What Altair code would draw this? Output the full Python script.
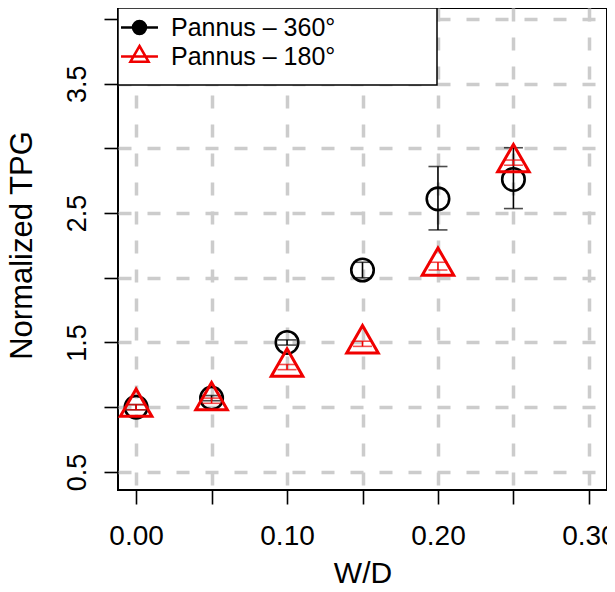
import altair as alt
import pandas as pd

# ---- data ----
wd = [0.00, 0.05, 0.10, 0.15, 0.20, 0.25]
tpg_360 = [1.00, 1.07, 1.50, 2.06, 2.61, 2.76]
lo_360 = [0.98, 1.05, 1.48, 2.00, 2.37, 2.535]
hi_360 = [1.02, 1.09, 1.52, 2.12, 2.86, 3.005]
tpg_180 = [1.00, 1.05, 1.31, 1.49, 2.09, 2.89]
lo_180 = [0.98, 1.03, 1.29, 1.47, 2.06, 2.87]
hi_180 = [1.02, 1.07, 1.33, 1.51, 2.12, 2.91]
series = ["Pannus \u2013 360\u00b0", "Pannus \u2013 180\u00b0"]
x_ticks = [0.0, 0.05, 0.10, 0.15, 0.20, 0.25, 0.30]
y_ticks = [0.5, 1.0, 1.5, 2.0, 2.5, 3.0, 3.5, 4.0]

FONT = "Liberation Sans"
RED = "#f00000"
X_DOMAIN = [-0.012, 0.312]
Y_DOMAIN = [0.36, 4.085]

df360 = pd.DataFrame({"wd": wd, "tpg": tpg_360, "lo": lo_360, "hi": hi_360})
df180 = pd.DataFrame({"wd": wd, "tpg": tpg_180, "lo": lo_180, "hi": hi_180})
dfleg = pd.DataFrame({"series": series})

xscale = alt.Scale(domain=X_DOMAIN, nice=False, zero=False)
yscale = alt.Scale(domain=Y_DOMAIN, nice=False, zero=False)

xaxis = alt.Axis(
    values=x_ticks, grid=True, domain=False, ticks=True,
    labelExpr="round(datum.value*100) % 10 == 0 ? format(datum.value, '.2f') : ''",
    labelFlush=False, labelOverlap=False, labelFontSize=28, labelPadding=40,
    labelBaseline="alphabetic", labelAlign="center",
    title="W/D", titleFontSize=30, titleX=244.5, titleY=92,
    titleBaseline="alphabetic", titleAlign="center",
)
yaxis = alt.Axis(
    values=y_ticks, grid=True, domain=False, ticks=True,
    labelExpr="round(datum.value*2) % 2 == 1 ? format(datum.value, '.1f') : ''",
    labelFlush=False, labelOverlap=False, labelFontSize=27, labelPadding=19,
    labelAngle=270, labelAlign="center", labelBaseline="alphabetic",
    title="Normalized TPG", titleFontSize=31, titleAngle=270,
    titleX=-87, titleY=237, titleAlign="center", titleBaseline="alphabetic",
)

def X(field):
    return alt.X(f"{field}:Q", scale=xscale, axis=xaxis, title="W/D")

def Y(field):
    return alt.Y(f"{field}:Q", scale=yscale, axis=yaxis, title="Normalized TPG")

TRI = "M0,-1L0.866,0.5L-0.866,0.5Z"

def errbars(df, color):
    rule = alt.Chart(df).mark_rule(color=color, strokeWidth=1.6).encode(
        x=X("wd"), y=Y("lo"), y2="hi:Q")
    caps = alt.Chart(df).transform_fold(["lo", "hi"], as_=["end", "val"]).mark_tick(
        orient="horizontal", color=color, size=19, thickness=1.6).encode(
        x=X("wd"), y=Y("val"))
    return rule, caps

r360, c360 = errbars(df360, "black")
r180, c180 = errbars(df180, RED)

circles = alt.Chart(df360).mark_point(
    shape="circle", size=506, filled=False, color="black", strokeWidth=2.6, opacity=1
).encode(x=X("wd"), y=Y("tpg"))

triangles = alt.Chart(df180).mark_point(
    shape=TRI, size=1325, filled=False, color=RED, strokeWidth=3, opacity=1
).encode(x=X("wd"), y=Y("tpg"))

LEG_CIRC = "M-1.54,0L1.54,0M0.54,0A0.54,0.54,0,1,1,-0.54,0A0.54,0.54,0,1,1,0.54,0Z"
LEG_TRI = "M-1.54,0L1.54,0M0,-0.875L0.758,0.4375L-0.758,0.4375Z"
legend = alt.Legend(
    orient="none", legendX=0, legendY=0,
    title="M" * 46, titleOrient="bottom", titleFontSize=8, titleOpacity=0,
    titlePadding=1, titleLimit=0, titleAnchor="start",
    padding=6, strokeColor="black", fillColor="white",
    labelFontSize=25, labelFont=FONT, labelColor="black",
    symbolSize=576, symbolStrokeWidth=2.5, symbolOffset=2, rowPadding=0,
    labelOffset=18, labelLimit=0,
)
leg_layer = alt.Chart(dfleg).transform_filter("false").mark_point(
    strokeWidth=2.5, opacity=1
).encode(
    shape=alt.Shape("series:N", scale=alt.Scale(domain=series, range=[LEG_CIRC, LEG_TRI]), legend=legend),
    stroke=alt.Stroke("series:N", scale=alt.Scale(domain=series, range=["black", RED]), legend=legend),
    fill=alt.Fill("series:N", scale=alt.Scale(domain=series, range=["black", "transparent"]), legend=legend),
)

chart = alt.layer(r360, c360, circles, r180, c180, triangles, leg_layer).properties(
    width=489, height=482,
    autosize=alt.AutoSizeParams(type="none"),
    padding={"left": 110, "top": 0, "right": 0, "bottom": 93},
).configure_view(
    stroke="black", strokeWidth=2
).configure_axis(
    labelFont=FONT, titleFont=FONT, labelColor="black", titleColor="black",
    titleFontWeight="normal", tickColor="black", tickSize=14, tickWidth=1.6,
    gridColor="#cccccc", gridDash=[13, 16], gridWidth=3.5, gridOpacity=1,
).configure_legend(
    strokeWidth=1.5,
)

chart.save("out.html", embed_options={"renderer": "svg", "actions": False})
